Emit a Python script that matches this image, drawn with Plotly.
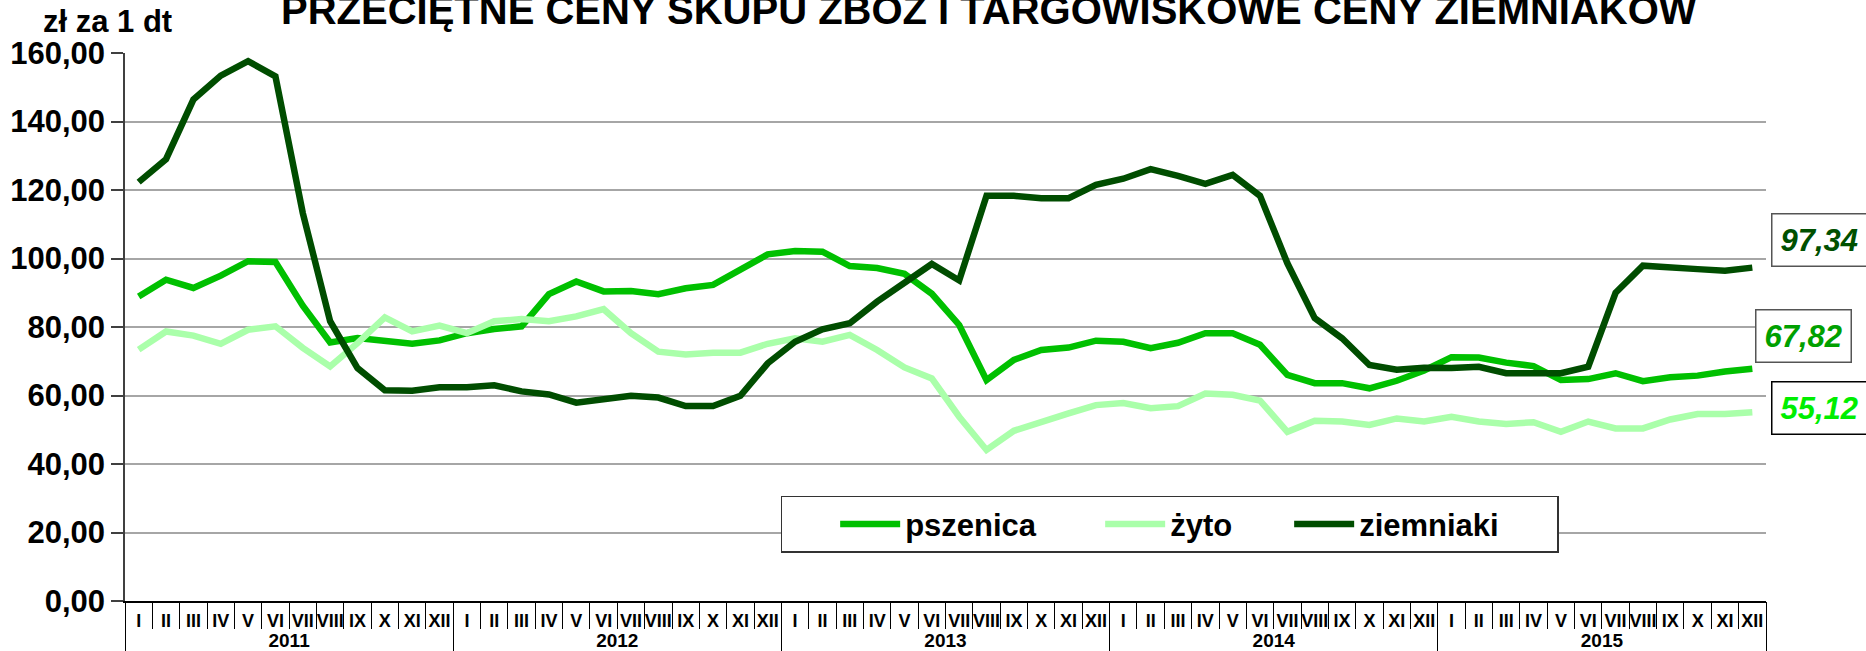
import plotly.graph_objects as go

# ---- data ----
years = ["2011", "2012", "2013", "2014", "2015"]
months = ["I", "II", "III", "IV", "V", "VI", "VII", "VIII", "IX", "X", "XI", "XII"]

pszenica = [88.9, 93.8, 91.4, 95.0, 99.2, 99.0, 86.2, 75.5, 76.8, 75.8, 75.1, 76.1,
            78.2, 79.4, 80.2, 89.6, 93.3, 90.4, 90.5, 89.6, 91.3, 92.3, 96.9, 101.2,
            102.2, 102.0, 97.8, 97.2, 95.5, 89.7, 80.6, 64.5, 70.4, 73.3, 74.0, 76.0,
            75.7, 73.8, 75.4, 78.2, 78.2, 74.8, 66.0, 63.6, 63.6, 62.1, 64.3, 67.3,
            71.2, 71.1, 69.6, 68.6, 64.5, 64.8, 66.5, 64.2, 65.3, 65.8, 67.0, 67.82]

zyto = [73.4, 78.7, 77.5, 75.1, 79.2, 80.2, 73.9, 68.5, 75.3, 82.8, 78.7, 80.4,
        78.2, 81.7, 82.3, 81.7, 83.1, 85.2, 78.2, 72.8, 72.0, 72.5, 72.5, 75.1,
        76.7, 75.7, 77.7, 73.3, 68.2, 65.0, 53.8, 44.1, 49.7, 52.4, 54.8, 57.2,
        57.8, 56.3, 56.9, 60.6, 60.2, 58.5, 49.4, 52.6, 52.4, 51.4, 53.3, 52.4,
        53.8, 52.4, 51.7, 52.2, 49.4, 52.4, 50.4, 50.4, 53.0, 54.6, 54.6, 55.12]

ziemniaki = [122.3, 129.0, 146.4, 153.4, 157.6, 153.2, 113.3, 81.7, 68.0, 61.5, 61.4, 62.4,
             62.4, 63.0, 61.2, 60.3, 57.9, 58.7, 59.9, 59.4, 56.9, 56.9, 59.9, 69.4,
             75.7, 79.3, 81.1, 87.4, 92.8, 98.4, 93.6, 118.3, 118.3, 117.6, 117.6, 121.5,
             123.3, 126.1, 124.1, 121.8, 124.4, 118.3, 98.6, 82.6, 76.7, 68.9, 67.5, 68.1,
             68.0, 68.4, 66.5, 66.5, 66.5, 68.4, 90.0, 97.9, 97.6, 96.9, 96.4, 97.34]

series_names = ["pszenica", "żyto", "ziemniaki"]
title_text = "PRZECIĘTNE CENY SKUPU ZBÓŻ I TARGOWISKOWE CENY ZIEMNIAKÓW"
unit_text = "zł za 1 dt"

# ---- styling ----
FONT = "Liberation Sans, Arial, sans-serif"
line_colors = ["#00C000", "#AAFFAA", "#004D00"]
label_colors = ["#00A000", "#00EE00", "#005000"]
legend_widths = [190, 114, 192]

# category keys (month + year), shown with month names only
cat_keys = [f"{m} {y}" for y in years for m in months]
cat_text = [m for _ in years for m in months]
n = len(cat_keys)
nm = len(months)
positions = list(range(n))
year_centers = [i * nm + (nm - 1) / 2 for i in range(len(years))]
year_bounds = [i * nm - 0.5 for i in range(len(years) + 1)]

fig = go.Figure()
series = [pszenica, zyto, ziemniaki]
for k, (name, vals, col, lw) in enumerate(zip(series_names, series, line_colors, legend_widths)):
    if k < 2:
        fig.add_trace(go.Scatter(x=cat_keys, y=vals, mode="lines", name=name,
                                 line=dict(color=col, width=6.5), legendwidth=lw))
    else:
        # same positions on the overlaid year axis (identical range)
        fig.add_trace(go.Scatter(x=positions, y=vals, mode="lines", name=name,
                                 xaxis="x2", line=dict(color=col, width=6.5),
                                 legendwidth=lw))

fig.update_layout(
    width=1866, height=651,
    margin=dict(l=125, r=100, t=53, b=50, autoexpand=False),
    paper_bgcolor="white", plot_bgcolor="white",
    separators=", ",
    font=dict(family=FONT, color="black"),
    showlegend=True,
    legend=dict(orientation="h", x=0.3995, xanchor="left", y=0.192, yanchor="top",
                bgcolor="white", bordercolor="#333333", borderwidth=1.5,
                font=dict(family=FONT, size=31, color="black", weight="bold"),
                title=dict(text="&nbsp;" * 5, side="left",
                           font=dict(family=FONT, size=31, color="black")),
                itemwidth=60, traceorder="normal"),
    yaxis=dict(range=[0, 160], dtick=20, tickformat=".2f", automargin=False,
               showgrid=True, gridcolor="#A6A6A6", gridwidth=1.5,
               showline=True, linecolor="#404040", linewidth=1.5,
               ticks="outside", ticklen=12, tickcolor="#404040", tickwidth=1.5,
               zeroline=False,
               tickfont=dict(family=FONT, size=31, color="black", weight="bold")),
    xaxis=dict(type="category", categoryorder="array", categoryarray=cat_keys,
               range=[-0.5, n - 0.5], automargin=False, showgrid=False,
               tickmode="array", tickvals=cat_keys, ticktext=cat_text,
               tickson="boundaries", ticks="outside", ticklen=26,
               tickcolor="black", tickwidth=1, tickangle=0, ticklabelstandoff=3,
               showline=True, linecolor="black", linewidth=1.5,
               tickfont=dict(family=FONT, size=18, color="black", weight="bold")),
    xaxis2=dict(overlaying="x", anchor="y", side="bottom", type="linear",
                range=[-0.5, n - 0.5], automargin=False, showgrid=False,
                zeroline=False, showline=False,
                tickmode="array", tickvals=year_centers, ticktext=years,
                ticks="", ticklabelstandoff=26,
                minor=dict(tickmode="array", tickvals=year_bounds, ticks="outside",
                           ticklen=50, tickcolor="black", tickwidth=1),
                tickfont=dict(family=FONT, size=19, color="black", weight="bold")),
)

# title (partly cut at top, as in the reference)
fig.add_annotation(text=title_text, xref="paper", yref="paper", x=0.5265, y=1.035,
                   xanchor="center", yanchor="bottom", showarrow=False,
                   font=dict(family=FONT, size=40, color="black", weight="bold"))
# unit label
fig.add_annotation(text=unit_text, xref="paper", yref="paper", x=-0.0513, y=1.022,
                   xanchor="left", yanchor="bottom", showarrow=False,
                   font=dict(family=FONT, size=31, color="black", weight="bold"))

# last-value labels
label_pos = [(1.0226, 77.4), (1.0323, 56.4), (1.0329, 105.4)]
for vals, col, (px, py), bcol in zip(series, label_colors, label_pos,
                                    ["#555555", "black", "#555555"]):
    txt = f"{vals[-1]:.2f}".replace(".", ",")
    fig.add_annotation(text=txt, xref="paper", yref="y", x=px, y=py,
                       xanchor="center", yanchor="middle", showarrow=False,
                       bgcolor="white", bordercolor=bcol, borderwidth=1.5, borderpad=8,
                       font=dict(family=FONT, size=31, color=col, weight="bold", style="italic"))

fig.write_html("out.html", config={"displayModeBar": False},
               post_script="document.body.style.margin='0';"
                           "document.documentElement.style.overflow='hidden';")
